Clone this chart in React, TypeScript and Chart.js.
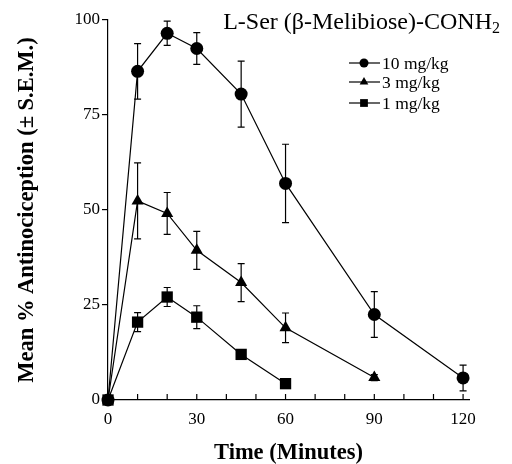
import React, { useEffect, useRef } from "react";
import { Chart, registerables } from "chart.js";

Chart.register(...registerables);

const times10 = [0, 10, 20, 30, 45, 60, 90, 120];
const values10 = [0, 86.5, 96.5, 92.5, 80.5, 57, 22.5, 5.8];
const errors10 = [0, 7.3, 3.2, 4.2, 8.7, 10.3, 6, 3.4];

const times3 = [0, 10, 20, 30, 45, 60, 90];
const values3 = [0, 52.4, 49.1, 39.4, 30.9, 19, 5.9];
const errors3 = [0, 10, 5.5, 5, 5, 3.9, 0.8];

const times1 = [0, 10, 20, 30, 45, 60];
const values1 = [0, 20.5, 27.1, 21.8, 12, 4.3];
const errors1 = [0, 2.5, 2.5, 3, 0, 0];

const seriesLabels = ["10 mg/kg", "3 mg/kg", "1 mg/kg"];
const xTickValues = [0, 10, 20, 30, 40, 50, 60, 70, 80, 90, 100, 110, 120];
const xLabelValues = [0, 30, 60, 90, 120];
const yTickValues = [0, 25, 50, 75, 100];
const titleMain = "L-Ser (β-Melibiose)-CONH";
const titleSub = "2";

const FONT = "'Liberation Serif', 'Times New Roman', serif";

const seriesList = [
  { label: seriesLabels[0], times: times10, values: values10, errors: errors10, style: "circle", radius: 6.5, legendRadius: 4.5 },
  { label: seriesLabels[1], times: times3, values: values3, errors: errors3, style: "triangle", radius: 7, legendRadius: 5 },
  { label: seriesLabels[2], times: times1, values: values1, errors: errors1, style: "rect", radius: 8, legendRadius: 5.5 },
];

function marker(ctx: CanvasRenderingContext2D, style: string, r: number, x: number, y: number) {
  ctx.beginPath();
  if (style === "circle") {
    ctx.arc(x, y, r, 0, Math.PI * 2);
  } else if (style === "triangle") {
    ctx.moveTo(x, y - r);
    ctx.lineTo(x + r * 0.866, y + r * 0.5);
    ctx.lineTo(x - r * 0.866, y + r * 0.5);
    ctx.closePath();
  } else {
    const s = r * Math.SQRT1_2;
    ctx.rect(x - s, y - s, 2 * s, 2 * s);
  }
  ctx.fill();
}

const decorPlugin = {
  id: "decor",
  beforeDatasetsDraw(chart: any) {
    const { ctx, scales } = chart;
    const x = scales.x;
    const y = scales.y;
    ctx.save();
    ctx.strokeStyle = "#000";
    ctx.lineWidth = 1.2;
    seriesList.forEach((s) => {
      s.values.forEach((v, i) => {
        const e = s.errors[i];
        if (!e) return;
        const px = x.getPixelForValue(s.times[i]);
        const top = y.getPixelForValue(v + e);
        const bot = y.getPixelForValue(v - e);
        ctx.beginPath();
        ctx.moveTo(px, top);
        ctx.lineTo(px, bot);
        ctx.moveTo(px - 3.5, top);
        ctx.lineTo(px + 3.5, top);
        ctx.moveTo(px - 3.5, bot);
        ctx.lineTo(px + 3.5, bot);
        ctx.stroke();
      });
    });
    ctx.restore();
  },
  afterDraw(chart: any) {
    const { ctx, scales } = chart;
    const x = scales.x;
    const y = scales.y;
    ctx.save();
    ctx.strokeStyle = "#000";
    ctx.fillStyle = "#000";
    ctx.lineWidth = 1.2;
    xTickValues.forEach((t) => {
      const px = x.getPixelForValue(t);
      ctx.beginPath();
      ctx.moveTo(px, y.bottom);
      ctx.lineTo(px, y.bottom - 6);
      ctx.stroke();
    });
    ctx.font = `24px ${FONT}`;
    ctx.textBaseline = "alphabetic";
    ctx.textAlign = "left";
    const w = ctx.measureText(titleMain).width;
    ctx.font = `16px ${FONT}`;
    const ws = ctx.measureText(titleSub).width;
    const tx = 500 - w - ws;
    ctx.font = `24px ${FONT}`;
    ctx.fillText(titleMain, tx, 29);
    ctx.font = `16px ${FONT}`;
    ctx.fillText(titleSub, tx + w, 33);
    const rows = [63, 82, 103];
    ctx.font = `17.5px ${FONT}`;
    ctx.textBaseline = "middle";
    seriesList.forEach((s, i) => {
      const cy = rows[i];
      ctx.beginPath();
      ctx.moveTo(349, cy);
      ctx.lineTo(380, cy);
      ctx.stroke();
      marker(ctx, s.style, s.legendRadius, 364, cy);
      ctx.fillText(s.label, 382, cy + 1);
    });
    ctx.restore();
  },
};

export default function App() {
  const ref = useRef<HTMLCanvasElement | null>(null);
  useEffect(() => {
    document.body.style.margin = "0";
    if (!ref.current) return;
    const chart = new Chart(ref.current, {
      type: "line",
      data: {
        datasets: seriesList.map((s) => ({
          label: s.label,
          data: s.times.map((t, i) => ({ x: t, y: s.values[i] })),
          borderColor: "#000",
          backgroundColor: "#000",
          borderWidth: 1.2,
          pointStyle: s.style,
          pointRadius: s.radius,
          pointHoverRadius: s.radius,
          pointBorderWidth: 0,
          pointBackgroundColor: "#000",
          tension: 0,
          clip: false as any,
        })),
      },
      options: {
        animation: false,
        responsive: false,
        events: [],
        layout: { padding: { left: 0, right: 43, top: 20, bottom: 0 } },
        plugins: { legend: { display: false }, tooltip: { enabled: false }, title: { display: false } },
        scales: {
          x: {
            type: "linear",
            min: 0,
            max: 122,
            afterBuildTicks: (scale: any) => {
              scale.ticks = xLabelValues.map((v) => ({ value: v }));
            },
            afterFit: (scale: any) => {
              scale.height = 64;
            },
            grid: { display: true, drawOnChartArea: false, drawTicks: false, color: "#000" },
            border: { display: true, color: "#000", width: 1.2 },
            ticks: { color: "#000", font: { family: FONT, size: 17 }, padding: 9, maxRotation: 0 },
            title: { display: true, text: "Time (Minutes)", color: "#000", font: { family: FONT, size: 22.5, weight: "bold" }, padding: { top: 4, bottom: -3 } },
          },
          y: {
            type: "linear",
            min: 0,
            max: 100,
            afterBuildTicks: (scale: any) => {
              scale.ticks = yTickValues.map((v) => ({ value: v }));
            },
            afterFit: (scale: any) => {
              scale.width = 108;
            },
            grid: { display: true, drawOnChartArea: false, drawTicks: true, tickLength: 6, color: "#000", lineWidth: 1.2 },
            border: { display: true, color: "#000", width: 1.2 },
            ticks: { color: "#000", font: { family: FONT, size: 17 }, padding: 2 },
            title: { display: true, text: "Mean % Antinociception (± S.E.M.)", color: "#000", font: { family: FONT, size: 22.5, weight: "bold" }, padding: { top: 14, bottom: 0 } },
          },
        },
      } as any,
      plugins: [decorPlugin],
    });
    return () => chart.destroy();
  }, []);
  return (
    <div style={{ width: 512, height: 464, background: "#fff" }}>
      <canvas ref={ref} width={512} height={464} style={{ display: "block" }} />
    </div>
  );
}
